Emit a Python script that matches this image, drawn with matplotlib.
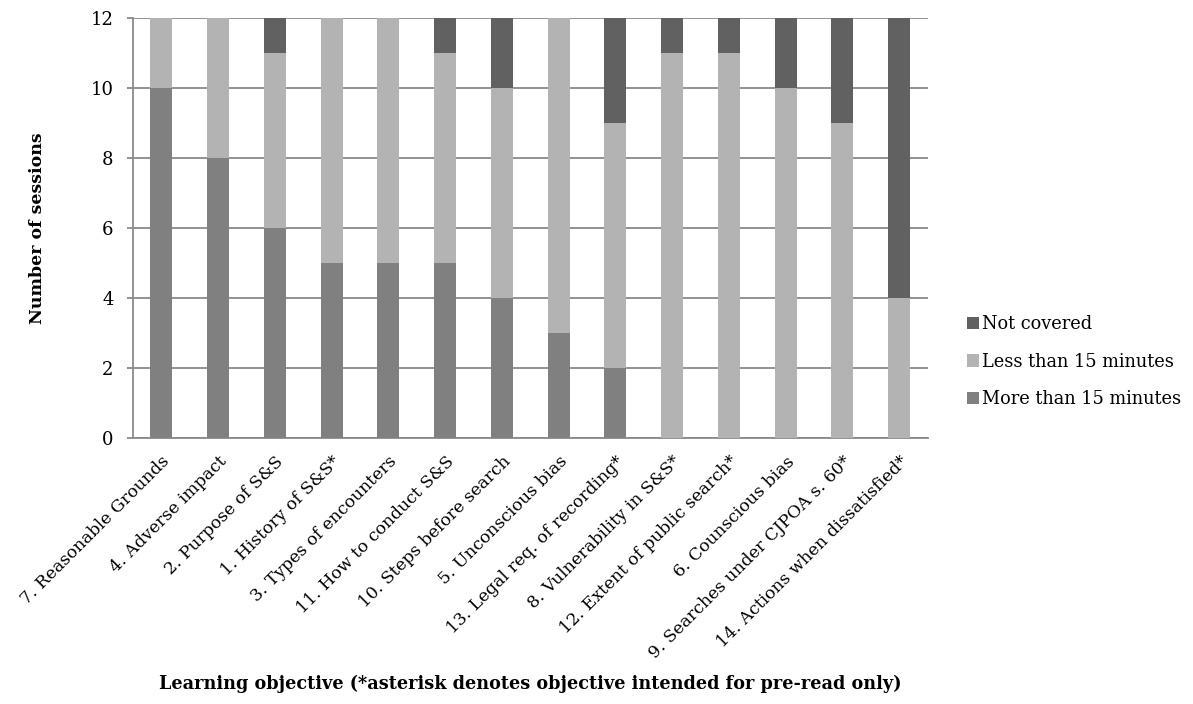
import matplotlib
matplotlib.use("Agg")
import matplotlib.pyplot as plt
import numpy as np

plt.rcParams['font.family'] = ['DejaVu Serif']

categories = [
    "7. Reasonable Grounds", "4. Adverse impact", "2. Purpose of S&S",
    "1. History of S&S*", "3. Types of encounters", "11. How to conduct S&S",
    "10. Steps before search", "5. Unconscious bias", "13. Legal req. of recording*",
    "8. Vulnerability in S&S*", "12. Extent of public search*", "6. Counscious bias",
    "9. Searches under CJPOA s. 60*", "14. Actions when dissatisfied*",
]
more_15 = [10, 8, 6, 5, 5, 5, 4, 3, 2, 0, 0, 0, 0, 0]
less_15 = [2, 4, 5, 7, 7, 6, 6, 9, 7, 11, 11, 10, 9, 4]
not_covered = [0, 0, 1, 0, 0, 1, 2, 0, 3, 1, 1, 2, 3, 8]

fig = plt.figure(figsize=(11.93, 7.04), dpi=100)
ax = fig.add_axes([0.1115, 0.378, 0.666, 0.596])

x = np.arange(len(categories))
more = np.array(more_15)
less = np.array(less_15)
notc = np.array(not_covered)
w = 0.39
b1 = ax.bar(x, more, w, color='#808080', label='More than 15 minutes', zorder=3)
b2 = ax.bar(x, less, w, bottom=more, color='#b3b3b3', label='Less than 15 minutes', zorder=3)
b3 = ax.bar(x, notc, w, bottom=more + less, color='#616161', label='Not covered', zorder=3)

ax.set_xlim(-0.5, len(categories) - 0.5)
ax.set_ylim(0, 12)
ax.set_yticks(range(0, 13, 2))
ax.yaxis.grid(True, color='#8a8a8a', linewidth=1.3, zorder=0)
for s in ['top', 'right']:
    ax.spines[s].set_visible(False)
for s in ['left', 'bottom']:
    ax.spines[s].set_color('#8a8a8a')
    ax.spines[s].set_linewidth(1.3)
ax.tick_params(axis='y', length=4, color='#8a8a8a', width=1.3, labelsize=13, pad=10)
ax.tick_params(axis='x', length=0, labelsize=12.3, pad=11)
ax.set_xticks(x)
ax.set_xticklabels(categories, rotation=45, ha='right', rotation_mode='anchor')

ax.set_ylabel('Number of sessions', fontsize=12.5, fontweight='bold', labelpad=32)
ax.set_xlabel('Learning objective (*asterisk denotes objective intended for pre-read only)',
              fontsize=12.7, fontweight='bold', labelpad=9)

fig.legend(handles=[b3, b2, b1], loc='center left', bbox_to_anchor=(0.8106, 0.486),
           frameon=False, fontsize=12.8, handlelength=0.7, handleheight=0.7,
           handletextpad=0.15, labelspacing=1.1, borderpad=0, borderaxespad=0)

fig.savefig('out.png', dpi=100)
